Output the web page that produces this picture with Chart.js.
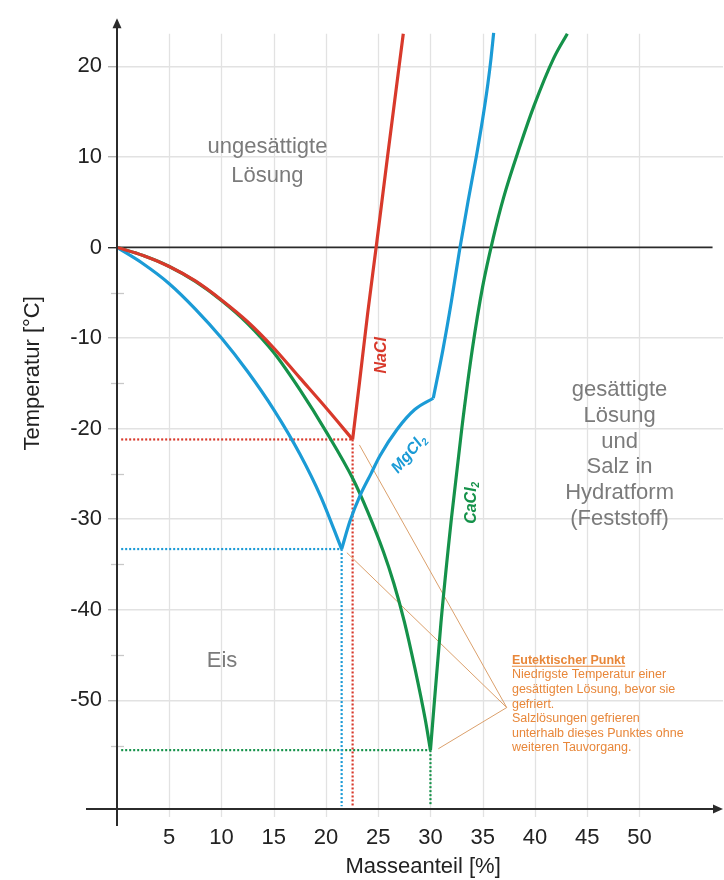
<!DOCTYPE html>
<html lang="de">
<head>
<meta charset="utf-8">
<title>Eutektische Punkte von Streusalzen</title>
<script src="https://cdn.jsdelivr.net/npm/chart.js@4.4.1/dist/chart.umd.min.js"></script>
<style>
  html, body { margin: 0; padding: 0; background: #fff; }
  #wrap { position: relative; width: 724px; height: 880px; }
</style>
</head>
<body>
<div id="wrap"><canvas id="chart"></canvas></div>
<script>
const xTicks = [5, 10, 15, 20, 25, 30, 35, 40, 45, 50];
const yTicks = [20, 10, 0, -10, -20, -30, -40, -50];
const yMinorTicks = [-5, -15, -25, -35, -45, -55];

// NaCl: Eislinie und Löslichkeitslinie
const naclIceX = [0, 2.5, 5, 7.5, 10, 12.5, 15, 17.5, 20, 22.55];
const naclIceT = [0, -0.9, -2.1, -3.7, -5.8, -8.2, -11.1, -14.4, -17.7, -21.2];
const naclSatX = [22.55, 23.2, 24.0, 24.8, 25.9, 27.4];
const naclSatT = [-21.2, -15.0, -7.2, 0, 10.1, 23.6];

// MgCl2: Eislinie, Hydrat-Ast bis zum Knick, dann steiler Ast
const mgIceX = [0, 2.5, 5, 7.5, 10, 12.5, 15, 17.5, 19.5, 21.5];
const mgIceT = [0, -1.8, -4.0, -6.8, -10.0, -13.7, -17.9, -22.8, -27.5, -33.3];
const mgSatX = [21.5, 22.3, 23.26, 24.3, 25.17, 26.8, 28.5, 30.27];
const mgSatT = [-33.3, -30.2, -27.4, -25.0, -23.0, -20.1, -17.9, -16.65];
const mgHydX = [30.27, 31.2, 32.0, 32.8, 33.6, 34.4, 35.0, 35.5, 35.8, 36.05];
const mgHydT = [-16.65, -11.25, -6.0, -0.2, 5.1, 10.1, 14.2, 18.1, 20.9, 23.7];

// CaCl2
const caIceX = [0, 2.5, 5, 7.5, 10, 12.5, 15, 17.5, 20, 22.6, 24, 25.5, 26.5, 27.5, 28.5, 29.5, 30.0];
const caIceT = [0, -0.9, -2.1, -3.75, -5.85, -8.4, -11.6, -15.7, -20.3, -25.6, -29.2, -33.6, -37.1, -41.3, -46.4, -52.1, -55.5];
const caSatX = [30.0, 31.0, 32.0, 33.0, 34.0, 35.0, 36.0, 37.0, 38.6, 39.9, 41.8, 43.1];
const caSatT = [-55.5, -41.5, -30.0, -20.0, -11.3, -4.3, 1.0, 5.5, 11.3, 15.6, 20.9, 23.6];

// eutektische Punkte (NaCl, MgCl2, CaCl2) und Hinweislinien
const eutecticX = [22.55, 21.5, 30.0];
const eutecticT = [-21.2, -33.3, -55.5];
const leaderEndX = [23.2, 22.0, 30.75];
const leaderEndT = [-21.8, -33.7, -55.35];
const leaderHubX = 37.3;
const leaderHubT = -50.8;

const noteTitle = 'Eutektischer Punkt';
const noteLines = ['Niedrigste Temperatur einer', 'gesättigten Lösung, bevor sie', 'gefriert.',
  'Salzlösungen gefrieren', 'unterhalb dieses Punktes ohne', 'weiteren Tauvorgang.'];
const upperRegion = ['ungesättigte', 'Lösung'];
const rightRegion = ['gesättigte', 'Lösung', 'und', 'Salz in', 'Hydratform', '(Feststoff)'];

const X_MIN = 0, X_MAX = 58, Y_MIN = -62, Y_MAX = 25.2;
const RED = '#d8392b', BLUE = '#1b9bd6', GREEN = '#15924a';
const ORANGE = '#e8873a', LEADER = '#dba06c', GREY_TXT = '#7b7b7b', INK = '#222';
const FONT = '"Liberation Sans", Arial, sans-serif';

const zip = (xs, ts) => xs.map((v, i) => ({ x: v, y: ts[i] }));

const curve = (xs, ts, color) => ({
  data: zip(xs, ts), borderColor: color, borderWidth: 3.2,
  pointRadius: 0, cubicInterpolationMode: 'monotone', fill: false
});
const straight = (pts, color, width, dash) => ({
  data: pts, borderColor: color, borderWidth: width, borderDash: dash || [],
  pointRadius: 0, tension: 0, fill: false
});

const saltColors = [RED, BLUE, GREEN];
const datasets = [
  curve(naclIceX, naclIceT, RED),
  curve(naclSatX, naclSatT, RED),
  curve(mgIceX, mgIceT, BLUE),
  curve(mgSatX, mgSatT, BLUE),
  curve(mgHydX, mgHydT, BLUE),
  curve(caIceX, caIceT, GREEN),
  curve(caSatX, caSatT, GREEN),
  straight([{ x: 0, y: 0 }, { x: 57, y: 0 }], '#2b2b2b', 1.7)
];
eutecticX.forEach((ex, i) => {
  datasets.push(straight([{ x: leaderHubX, y: leaderHubT }, { x: leaderEndX[i], y: leaderEndT[i] }], LEADER, 1));
});
eutecticX.forEach((ex, i) => {
  const et = eutecticT[i];
  datasets.push(straight([{ x: 0.4, y: et }, { x: ex, y: et }], saltColors[i], 2.2, [2, 2]));
  datasets.push(straight([{ x: ex, y: et }, { x: ex, y: Y_MIN + 0.3 }], saltColors[i], 2.2, [2, 2]));
});

// Achsen mit Pfeilen, Zusatzgitter und Beschriftungen
const overlay = {
  id: 'overlay',
  beforeDatasetsDraw(chart) {
    const { ctx, scales: { x, y } } = chart;
    ctx.save();
    ctx.strokeStyle = '#e2e2e2';
    ctx.lineWidth = 1.3;
    xTicks.forEach(v => {
      const px = Math.round(x.getPixelForValue(v)) + 0.5;
      ctx.beginPath();
      ctx.moveTo(px, y.getPixelForValue(23.6));
      ctx.lineTo(px, y.bottom + 8);
      ctx.stroke();
    });
    ctx.strokeStyle = '#c8c8c8';
    yMinorTicks.forEach(v => {
      const py = Math.round(y.getPixelForValue(v)) + 0.5;
      ctx.beginPath();
      ctx.moveTo(x.left - 6, py);
      ctx.lineTo(x.left + 7, py);
      ctx.stroke();
    });
    ctx.restore();
  },
  afterDraw(chart) {
    const { ctx, scales: { x, y } } = chart;
    const X = v => x.getPixelForValue(v);
    const Y = v => y.getPixelForValue(v);
    const x0 = X(0), yb = y.bottom;
    ctx.save();

    // Achsen
    ctx.strokeStyle = '#2b2b2b';
    ctx.fillStyle = '#2b2b2b';
    ctx.lineWidth = 2;
    ctx.beginPath();
    ctx.moveTo(x0 - 31, yb); ctx.lineTo(x.right - 6, yb);
    ctx.moveTo(x0, yb + 17); ctx.lineTo(x0, y.top + 6);
    ctx.stroke();
    ctx.beginPath();
    ctx.moveTo(x.right, yb); ctx.lineTo(x.right - 10, yb - 4.5); ctx.lineTo(x.right - 10, yb + 4.5);
    ctx.closePath(); ctx.fill();
    ctx.beginPath();
    ctx.moveTo(x0, y.top - 1); ctx.lineTo(x0 - 4.5, y.top + 9); ctx.lineTo(x0 + 4.5, y.top + 9);
    ctx.closePath(); ctx.fill();

    // Achsentitel
    ctx.fillStyle = INK;
    ctx.font = '22px ' + FONT;
    ctx.textAlign = 'center';
    ctx.textBaseline = 'middle';
    ctx.fillText('Masseanteil [%]', X(29.3), yb + 58);
    ctx.save();
    ctx.translate(x0 - 84, Y(-13.9));
    ctx.rotate(-Math.PI / 2);
    ctx.fillText('Temperatur [°C]', 0, 0);
    ctx.restore();

    // Bereiche
    ctx.fillStyle = GREY_TXT;
    ctx.textBaseline = 'alphabetic';
    upperRegion.forEach((s, i) => ctx.fillText(s, X(14.4), Y(10.4) + i * 28.4));
    rightRegion.forEach((s, i) => ctx.fillText(s, X(48.1), Y(-16.4) + i * 25.8));
    ctx.fillText('Eis', X(10.05), Y(-46.3));

    // Salzbezeichnungen
    const chem = (base, sub, xv, tv, deg, color) => {
      ctx.save();
      ctx.translate(X(xv), Y(tv));
      ctx.rotate(deg * Math.PI / 180);
      ctx.fillStyle = color;
      ctx.textAlign = 'left';
      ctx.textBaseline = 'middle';
      ctx.font = 'italic bold 16px ' + FONT;
      const w1 = ctx.measureText(base).width;
      ctx.font = 'italic bold 10px ' + FONT;
      const w2 = sub ? ctx.measureText(sub).width : 0;
      const start = -(w1 + w2) / 2;
      ctx.font = 'italic bold 16px ' + FONT;
      ctx.fillText(base, start, 0);
      if (sub) {
        ctx.font = 'italic bold 10px ' + FONT;
        ctx.fillText(sub, start + w1, 5);
      }
      ctx.restore();
    };
    chem('NaCl', '', 25.3, -11.9, -90, RED);
    chem('MgCl', '2', 27.95, -22.8, -50, BLUE);
    chem('CaCl', '2', 33.95, -28.2, -90, GREEN);

    // Hinweis zum eutektischen Punkt
    ctx.fillStyle = ORANGE;
    ctx.strokeStyle = ORANGE;
    ctx.textAlign = 'left';
    ctx.textBaseline = 'alphabetic';
    const nx = X(37.8), ny = Y(-45.96);
    ctx.font = 'bold 12.5px ' + FONT;
    ctx.fillText(noteTitle, nx, ny);
    const tw = ctx.measureText(noteTitle).width;
    ctx.lineWidth = 1;
    ctx.beginPath();
    ctx.moveTo(nx, ny + 2.5); ctx.lineTo(nx + tw, ny + 2.5);
    ctx.stroke();
    ctx.font = '12.5px ' + FONT;
    noteLines.forEach((s, i) => ctx.fillText(s, nx, ny + (i + 1) * 14.6));

    ctx.restore();
  }
};

new Chart(document.getElementById('chart'), {
  type: 'line',
  data: { datasets },
  options: {
    responsive: true,
    maintainAspectRatio: false,
    animation: false,
    layout: { padding: { top: 13, right: 1, left: 0, bottom: 0 } },
    plugins: { legend: { display: false }, tooltip: { enabled: false } },
    scales: {
      x: {
        type: 'linear', min: X_MIN, max: X_MAX,
        afterBuildTicks: s => { s.ticks = xTicks.map(v => ({ value: v })); },
        afterFit: s => { s.height = 71; },
        grid: { display: false },
        border: { display: false },
        ticks: { padding: 8, color: INK, font: { family: FONT, size: 22 } }
      },
      y: {
        type: 'linear', min: Y_MIN, max: Y_MAX,
        afterBuildTicks: s => { s.ticks = yTicks.map(v => ({ value: v })); },
        afterFit: s => { s.width = 117; },
        border: { display: false },
        grid: {
          color: c => (c.tick && c.tick.value === 0) ? 'rgba(0,0,0,0)' : '#e2e2e2',
          lineWidth: 1.4,
          tickLength: 9,
          tickColor: c => (c.tick && c.tick.value === 0) ? '#2b2b2b' : '#b5b5b5'
        },
        ticks: { padding: 6, color: INK, font: { family: FONT, size: 22 } }
      }
    }
  },
  plugins: [overlay]
});
</script>
</body>
</html>
